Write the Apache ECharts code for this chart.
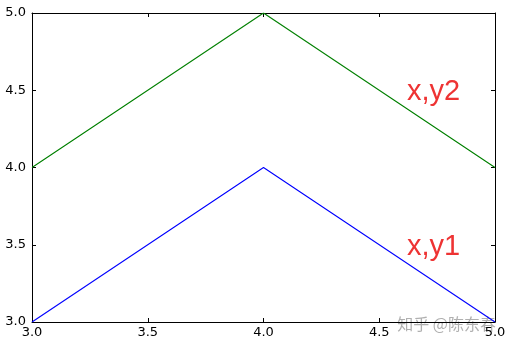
<!DOCTYPE html>
<html><head><meta charset="utf-8">
<script src="https://cdn.jsdelivr.net/npm/echarts@6/dist/echarts.min.js"></script>
<style>html,body{margin:0;padding:0;background:#fff}#c{width:510px;height:345px}</style>
</head><body><div id="c"></div>
<script>
const xValues = [3, 4, 5];
const y1 = [3, 4, 3];
const y2 = [4, 5, 4];
const annotations = [
  {text: 'x,y1', x: 4.62, y: 3.5},
  {text: 'x,y2', x: 4.62, y: 4.5}
];
const chart = echarts.init(document.getElementById('c'), null, {renderer: 'canvas'});
const tickFmt = v => v.toFixed(1);
const axisCommon = {
  type: 'value', min: 3, max: 5, interval: 0.5,
  axisLine: {show: true, onZero: false, lineStyle: {color: '#000', width: 1}},
  axisTick: {show: true, inside: true, length: 4, lineStyle: {color: '#000'}},
  splitLine: {show: false}
};
chart.setOption({
  animation: false,
  grid: {left: 32, right: 15, top: 13, bottom: 23},
  xAxis: [
    Object.assign({}, axisCommon, {position: 'bottom',
      axisLabel: {formatter: tickFmt, color: '#000', fontFamily: 'DejaVu Sans', fontSize: 13, margin: 4}}),
    Object.assign({}, axisCommon, {position: 'top', axisLabel: {show: false}})
  ],
  yAxis: [
    Object.assign({}, axisCommon, {position: 'left',
      axisLabel: {formatter: tickFmt, color: '#000', fontFamily: 'DejaVu Sans', fontSize: 13, margin: 6}}),
    Object.assign({}, axisCommon, {position: 'right', axisLabel: {show: false}})
  ],
  series: [
    {type: 'line', data: xValues.map((x, i) => [x, y1[i]]), symbol: 'none',
      lineStyle: {color: '#0000ff', width: 1.1}, itemStyle: {color: '#0000ff'}},
    {type: 'line', data: xValues.map((x, i) => [x, y2[i]]), symbol: 'none',
      lineStyle: {color: '#008000', width: 1.1}, itemStyle: {color: '#008000'}},
    {type: 'scatter', symbolSize: 0, silent: true, itemStyle: {opacity: 1},
      data: annotations.map(a => ({value: [a.x, a.y], name: a.text})),
      label: {show: true, position: 'inside', offset: [0, 2], align: 'left', verticalAlign: 'middle',
        formatter: p => p.name, color: '#ee3333', fontSize: 29, fontFamily: 'Liberation Sans'}}
  ],
  graphic: [{
    type: 'text', right: 14, bottom: 13,
    style: {text: '知乎 @陈东春', fill: 'rgba(150,150,150,0.75)', font: '16px "Noto Sans CJK SC"'}
  }]
});
</script></body></html>
